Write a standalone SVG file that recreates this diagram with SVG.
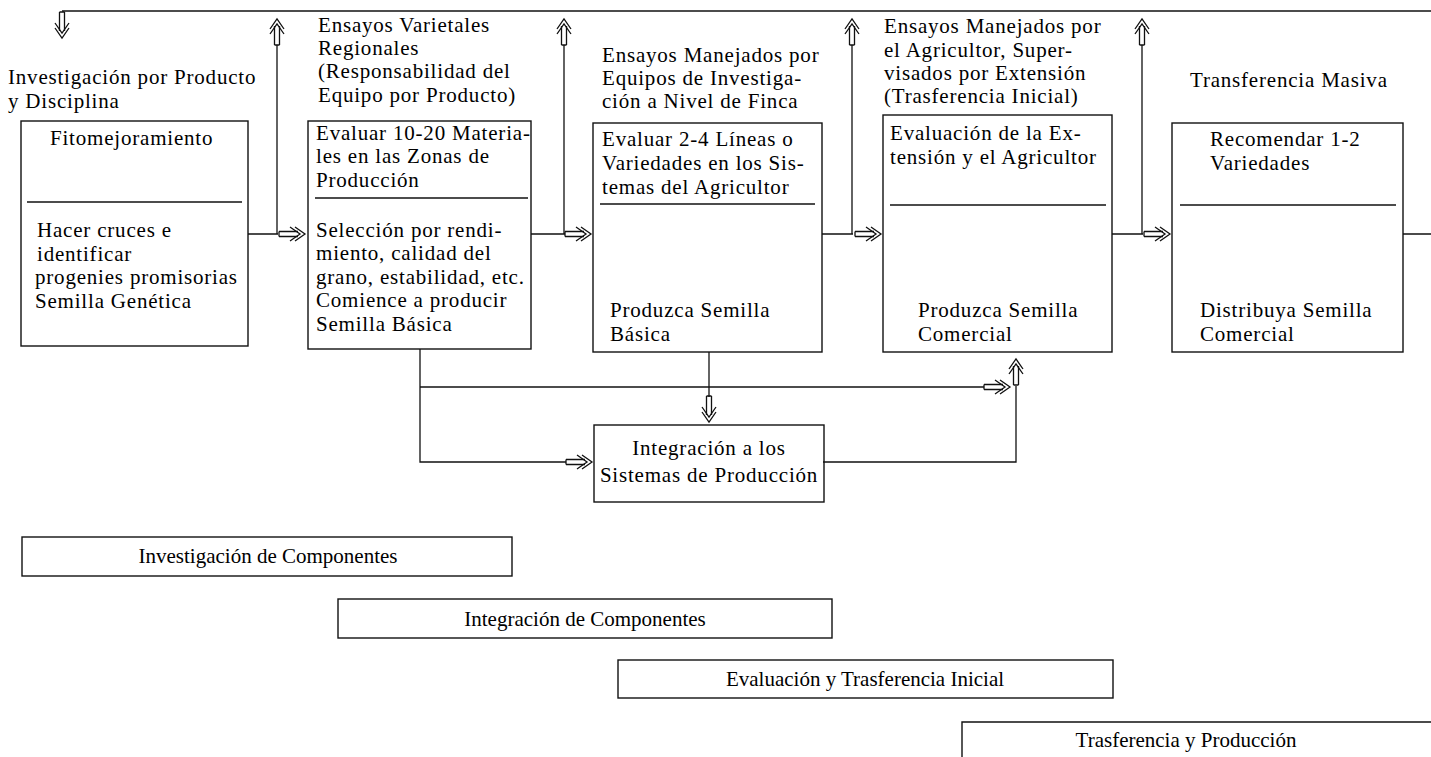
<svg xmlns="http://www.w3.org/2000/svg" xmlns:xlink="http://www.w3.org/1999/xlink" width="1431" height="757" viewBox="0 0 1431 757">
<style>
.t{font-family:"Liberation Serif","Times New Roman",serif;font-size:21px;letter-spacing:0.8px;fill:#000}
.s{font-family:"Liberation Serif","Times New Roman",serif;font-size:21px;fill:#000;text-anchor:middle}
.m{text-anchor:middle}
.b{fill:none;stroke:#111;stroke-width:1.4}
.c{fill:none;stroke:#111;stroke-width:1.3}
</style>
<defs>
<g id="ah" class="c">
<path d="M-28,-2.5 H-9 M-28,2.5 H-9 M-28,-2.5 V2.5"/>
<path d="M-12,-7 L-2,0 L-12,7 M-17,-7 L-7,0 L-17,7"/>
</g>
</defs>
<rect width="1431" height="757" fill="#fff"/>

<g id="connectors">
<path class="c" d="M62,11 H1431"/>
<use xlink:href="#ah" transform="translate(62,40) rotate(90)"/>
<path class="c" d="M277,234 V45 M564,234 V45 M852,234 V45 M1142,234 V45"/>
<use xlink:href="#ah" transform="translate(277,17) rotate(-90)"/>
<use xlink:href="#ah" transform="translate(564,17) rotate(-90)"/>
<use xlink:href="#ah" transform="translate(852,17) rotate(-90)"/>
<use xlink:href="#ah" transform="translate(1142,17) rotate(-90)"/>
<path class="c" d="M248,234 H278 M531,234 H565 M822,234 H853 M1112,234 H1143 M1403,234 H1431"/>
<use xlink:href="#ah" transform="translate(307,234)"/>
<use xlink:href="#ah" transform="translate(593,234)"/>
<use xlink:href="#ah" transform="translate(883,234)"/>
<use xlink:href="#ah" transform="translate(1172,234)"/>
<path class="c" d="M420,349 V462 H566"/>
<use xlink:href="#ah" transform="translate(594,462)"/>
<path class="c" d="M420,387 H984"/>
<use xlink:href="#ah" transform="translate(1012,387)"/>
<path class="c" d="M709,352 V397"/>
<use xlink:href="#ah" transform="translate(709,424) rotate(90)"/>
<path class="c" d="M823,462 H1016 V386"/>
<use xlink:href="#ah" transform="translate(1016,357) rotate(-90)"/>
</g>

<g id="n1">
<text class="t" x="8" y="84">Investigación por Producto</text>
<text class="t" x="8" y="108">y Disciplina</text>
<rect class="b" x="21" y="121" width="227" height="225"/>
<path class="c" d="M27,202 H242"/>
<text class="t" x="50" y="145">Fitomejoramiento</text>
<text class="t" x="37" y="237">Hacer cruces e</text>
<text class="t" x="37" y="261">identificar</text>
<text class="t" x="35" y="284">progenies promisorias</text>
<text class="t" x="35" y="308">Semilla Genética</text>
</g>

<g id="n2">
<text class="t" x="318" y="32">Ensayos Varietales</text>
<text class="t" x="318" y="55">Regionales</text>
<text class="t" x="318" y="78">(Responsabilidad del</text>
<text class="t" x="318" y="102">Equipo por Producto)</text>
<rect class="b" x="308" y="121" width="223" height="228"/>
<path class="c" d="M315,198 H528"/>
<text class="t" x="316" y="140">Evaluar 10-20 Materia-</text>
<text class="t" x="316" y="163">les en las Zonas de</text>
<text class="t" x="316" y="187">Producción</text>
<text class="t" x="316" y="237">Selección por rendi-</text>
<text class="t" x="316" y="260">miento, calidad del</text>
<text class="t" x="316" y="284">grano, estabilidad, etc.</text>
<text class="t" x="316" y="307">Comience a producir</text>
<text class="t" x="316" y="331">Semilla Básica</text>
</g>

<g id="n3">
<text class="t" x="602" y="62">Ensayos Manejados por</text>
<text class="t" x="602" y="85">Equipos de Investiga-</text>
<text class="t" x="602" y="108">ción a Nivel de Finca</text>
<rect class="b" x="593" y="123" width="229" height="229"/>
<path class="c" d="M600,204 H815"/>
<text class="t" x="602" y="146">Evaluar 2-4 Líneas o</text>
<text class="t" x="602" y="170">Variedades en los Sis-</text>
<text class="t" x="602" y="194">temas del Agricultor</text>
<text class="t" x="610" y="317">Produzca Semilla</text>
<text class="t" x="610" y="341">Básica</text>
</g>

<g id="n4">
<text class="t" x="884" y="33">Ensayos Manejados por</text>
<text class="t" x="884" y="57">el Agricultor, Super-</text>
<text class="t" x="884" y="80">visados por Extensión</text>
<text class="t" x="884" y="103">(Trasferencia Inicial)</text>
<rect class="b" x="883" y="115" width="229" height="237"/>
<path class="c" d="M890,205 H1106"/>
<text class="t" x="890" y="140">Evaluación de la Ex-</text>
<text class="t" x="890" y="164">tensión y el Agricultor</text>
<text class="t" x="918" y="317">Produzca Semilla</text>
<text class="t" x="918" y="341">Comercial</text>
</g>

<g id="n5">
<text class="t" x="1190" y="87">Transferencia Masiva</text>
<rect class="b" x="1172" y="123" width="231" height="229"/>
<path class="c" d="M1180,205 H1396"/>
<text class="t" x="1210" y="146">Recomendar 1-2</text>
<text class="t" x="1210" y="170">Variedades</text>
<text class="t" x="1200" y="317">Distribuya Semilla</text>
<text class="t" x="1200" y="341">Comercial</text>
</g>

<g id="n6">
<rect class="b" x="594" y="425" width="230" height="77"/>
<text class="t m" x="709" y="455">Integración a los</text>
<text class="t m" x="709" y="482">Sistemas de Producción</text>
</g>

<g id="bar1">
<rect class="b" x="22" y="537" width="490" height="39"/>
<text class="s" x="268" y="563">Investigación de Componentes</text>
</g>
<g id="bar2">
<rect class="b" x="338" y="599" width="494" height="39"/>
<text class="s" x="585" y="626">Integración de Componentes</text>
</g>
<g id="bar3">
<rect class="b" x="618" y="660" width="495" height="38"/>
<text class="s" x="865" y="686">Evaluación y Trasferencia Inicial</text>
</g>
<g id="bar4">
<path class="b" d="M962,757 V722 H1431"/>
<text class="s" x="1186" y="747">Trasferencia y Producción</text>
</g>
</svg>
